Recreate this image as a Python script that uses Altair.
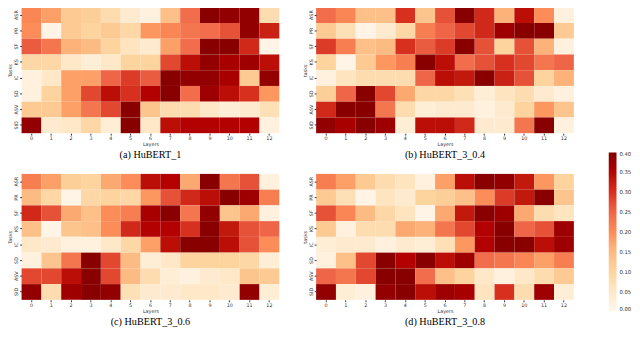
import altair as alt
import pandas as pd

tasks = ["ASR", "PR", "SF", "KS", "IC", "SD", "ASV", "SID"]
layers = list(range(13))
ticks = [0.0, 0.05, 0.10, 0.15, 0.20, 0.25, 0.30, 0.35, 0.40]
orrd = ["#fff7ec", "#fee8c8", "#fdd49e", "#fdbb84", "#fc8d59",
        "#ef6548", "#d7301f", "#b30000", "#7f0000"]

# rows follow `tasks`, columns follow `layers`
hubert_1 = [
    [0.21, 0.18, 0.12, 0.11, 0.08, 0.04, 0.02, 0.14, 0.24, 0.39, 0.38, 0.38, 0.08],
    [0.20, 0.01, 0.12, 0.10, 0.12, 0.09, 0.19, 0.21, 0.23, 0.24, 0.27, 0.38, 0.32],
    [0.26, 0.23, 0.16, 0.15, 0.10, 0.06, 0.04, 0.18, 0.24, 0.39, 0.39, 0.31, 0.01],
    [0.09, 0.09, 0.05, 0.03, 0.05, 0.10, 0.10, 0.28, 0.34, 0.38, 0.36, 0.37, 0.34],
    [0.02, 0.05, 0.18, 0.18, 0.25, 0.29, 0.26, 0.39, 0.38, 0.38, 0.36, 0.12, 0.38],
    [0.02, 0.10, 0.18, 0.28, 0.34, 0.30, 0.35, 0.39, 0.24, 0.37, 0.34, 0.30, 0.19],
    [0.12, 0.12, 0.18, 0.23, 0.28, 0.39, 0.13, 0.08, 0.08, 0.05, 0.03, 0.04, 0.07],
    [0.38, 0.04, 0.05, 0.09, 0.03, 0.39, 0.05, 0.34, 0.35, 0.35, 0.35, 0.35, 0.02],
]
hubert_3_04 = [
    [0.24, 0.21, 0.14, 0.14, 0.30, 0.13, 0.27, 0.39, 0.31, 0.16, 0.34, 0.20, 0.02],
    [0.12, 0.07, 0.01, 0.04, 0.09, 0.22, 0.25, 0.28, 0.31, 0.37, 0.39, 0.39, 0.12],
    [0.29, 0.22, 0.14, 0.15, 0.30, 0.26, 0.29, 0.39, 0.27, 0.10, 0.27, 0.16, 0.02],
    [0.10, 0.01, 0.12, 0.19, 0.22, 0.39, 0.34, 0.24, 0.27, 0.30, 0.28, 0.23, 0.25],
    [0.02, 0.06, 0.08, 0.08, 0.08, 0.25, 0.34, 0.33, 0.39, 0.32, 0.27, 0.10, 0.16],
    [0.11, 0.25, 0.39, 0.28, 0.17, 0.09, 0.09, 0.07, 0.03, 0.06, 0.08, 0.04, 0.02],
    [0.31, 0.39, 0.39, 0.23, 0.08, 0.03, 0.04, 0.04, 0.02, 0.04, 0.10, 0.19, 0.13],
    [0.38, 0.36, 0.39, 0.37, 0.03, 0.34, 0.34, 0.31, 0.04, 0.04, 0.23, 0.39, 0.02],
]
hubert_3_06 = [
    [0.22, 0.18, 0.11, 0.10, 0.17, 0.20, 0.34, 0.35, 0.17, 0.39, 0.23, 0.27, 0.02],
    [0.15, 0.09, 0.01, 0.09, 0.10, 0.09, 0.19, 0.27, 0.31, 0.34, 0.39, 0.37, 0.22],
    [0.31, 0.27, 0.17, 0.14, 0.20, 0.22, 0.36, 0.39, 0.23, 0.38, 0.13, 0.17, 0.02],
    [0.14, 0.01, 0.13, 0.14, 0.20, 0.31, 0.35, 0.35, 0.30, 0.39, 0.33, 0.27, 0.25],
    [0.05, 0.04, 0.02, 0.02, 0.05, 0.09, 0.18, 0.34, 0.39, 0.39, 0.34, 0.27, 0.20],
    [0.02, 0.13, 0.23, 0.39, 0.28, 0.15, 0.03, 0.05, 0.10, 0.10, 0.10, 0.09, 0.03],
    [0.28, 0.28, 0.34, 0.39, 0.28, 0.15, 0.08, 0.03, 0.02, 0.04, 0.05, 0.13, 0.12],
    [0.38, 0.08, 0.37, 0.39, 0.38, 0.07, 0.04, 0.04, 0.05, 0.05, 0.04, 0.38, 0.03],
]
hubert_3_08 = [
    [0.22, 0.18, 0.12, 0.08, 0.06, 0.02, 0.18, 0.34, 0.39, 0.38, 0.33, 0.19, 0.10],
    [0.12, 0.07, 0.01, 0.06, 0.04, 0.10, 0.11, 0.14, 0.20, 0.29, 0.33, 0.39, 0.13],
    [0.27, 0.21, 0.15, 0.09, 0.06, 0.01, 0.17, 0.33, 0.39, 0.37, 0.17, 0.08, 0.06],
    [0.12, 0.02, 0.08, 0.08, 0.17, 0.16, 0.23, 0.28, 0.35, 0.39, 0.25, 0.27, 0.37],
    [0.03, 0.04, 0.04, 0.02, 0.04, 0.03, 0.07, 0.19, 0.35, 0.39, 0.39, 0.34, 0.37],
    [0.02, 0.14, 0.28, 0.39, 0.35, 0.39, 0.34, 0.37, 0.24, 0.23, 0.21, 0.18, 0.22],
    [0.25, 0.23, 0.28, 0.39, 0.39, 0.24, 0.14, 0.10, 0.05, 0.02, 0.05, 0.08, 0.12],
    [0.38, 0.03, 0.02, 0.38, 0.39, 0.34, 0.37, 0.36, 0.06, 0.30, 0.08, 0.37, 0.03],
]

W, H = 266, 130


def heat(values, caption, ytitle):
    rows = []
    for ti, t in enumerate(tasks):
        for li, l in enumerate(layers):
            rows.append({"task": t, "layer": l, "value": values[ti][li]})
    df = pd.DataFrame(rows)
    return (
        alt.Chart(
            df,
            title=alt.Title(
                caption, orient="bottom", font="Liberation Serif", fontSize=10.5,
                fontWeight="normal", color="#000", offset=4,
            ),
        )
        .mark_rect()
        .encode(
            x=alt.X(
                "layer:O", title="Layers", sort=layers,
                scale=alt.Scale(paddingInner=0, paddingOuter=0),
                axis=alt.Axis(labelAngle=0, labelFontSize=5, labelFont="DejaVu Sans",
                              labelColor="#333", tickSize=2, tickColor="#333",
                              labelPadding=1, domain=False, titleFontSize=5,
                              titleFont="DejaVu Sans", titleFontWeight="normal",
                              titlePadding=1, titleColor="#333"),
            ),
            y=alt.Y(
                "task:N", title=ytitle, sort=tasks,
                scale=alt.Scale(paddingInner=0, paddingOuter=0),
                axis=alt.Axis(labelAngle=270, labelFontSize=5, labelFont="DejaVu Sans",
                              labelColor="#333", tickSize=2, tickColor="#333",
                              labelPadding=1, labelAlign="center", labelBaseline="bottom",
                              domain=False, titleFontSize=5, titleFont="DejaVu Sans",
                              titleFontWeight="normal", titlePadding=1, titleColor="#333"),
            ),
            color=alt.Color(
                "value:Q",
                scale=alt.Scale(domain=ticks, range=orrd),
                legend=alt.Legend(
                    orient="none", legendX=606, legendY=150, title=None,
                    gradientLength=164, gradientThickness=8, values=ticks,
                    format=".2f", labelFontSize=5.5, labelFont="DejaVu Sans",
                    labelColor="#333", labelOffset=3, gradientStrokeWidth=0,
                ),
            ),
        )
        .properties(width=W, height=H)
    )


a = heat(hubert_1, "(a) HuBERT_1", "Tasks")
b = heat(hubert_3_04, "(b) HuBERT_3_0.4", "tasks")
c = heat(hubert_3_06, "(c) HuBERT_3_0.6", "Tasks")
d = heat(hubert_3_08, "(d) HuBERT_3_0.8", "tasks")

chart = (
    alt.vconcat(
        alt.hconcat(a, b, spacing=24),
        alt.hconcat(c, d, spacing=24),
        spacing=13,
    )
    .properties(padding={"top": -6, "left": 0, "bottom": 0, "right": 0})
    .configure_view(stroke=None)
)

chart.save("out.html", embed_options={"renderer": "svg", "actions": False})
